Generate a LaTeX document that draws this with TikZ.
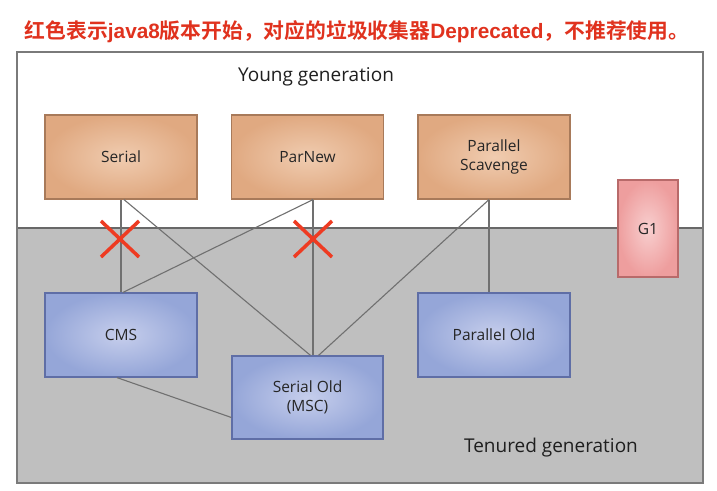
\documentclass[tikz,border=0pt]{standalone}
\usepackage{fontspec}
\setmainfont{Open Sans}
\newfontfamily\cjk{Noto Sans CJK SC}[BoldFont={Noto Sans CJK SC Bold}]
\newfontfamily\arialb{Liberation Sans}
\definecolor{titlered}{HTML}{E0321E}
\definecolor{frameg}{HTML}{7A7A7A}
\definecolor{tenured}{HTML}{BFBFBF}
\definecolor{linkg}{HTML}{707070}
\definecolor{orangeout}{HTML}{E0A981}
\definecolor{orangein}{HTML}{F0CCB0}
\definecolor{orangeedge}{HTML}{A87A5A}
\definecolor{blueout}{HTML}{95A6D8}
\definecolor{bluein}{HTML}{C6CEEC}
\definecolor{blueedge}{HTML}{5F6EA6}
\definecolor{pinkout}{HTML}{EE9E9E}
\definecolor{pinkin}{HTML}{F8CFCF}
\definecolor{pinkedge}{HTML}{B86A6A}
\definecolor{crossred}{HTML}{EE3B22}
\definecolor{txtg}{HTML}{262626}
\begin{document}
\begin{tikzpicture}[x=1pt,y=-1pt,
  gcbox/.style={rectangle, draw, line width=1.2pt, minimum width=152pt, minimum height=84pt,
    align=center, font=\fontsize{15.5}{19}\selectfont, text=txtg, inner sep=0pt},
  young/.style={gcbox, draw=orangeedge, inner color=orangein, outer color=orangeout},
  old/.style={gcbox, draw=blueedge, inner color=bluein, outer color=blueout},
  gone/.style={gcbox, draw=pinkedge, inner color=pinkin, outer color=pinkout, minimum width=60pt, minimum height=97pt},
  link/.style={draw=linkg, line width=1.1pt},
  crossline/.style={draw=crossred, line width=3.5pt},
  gen/.style={font=\fontsize{19}{22}\selectfont, text=black!88}]
\useasboundingbox (0,0) rectangle (717,490);
\fill[white] (0,0) rectangle (717,490);
% title
\node[text=titlered, font=\fontsize{20.8}{24}\selectfont\bfseries] (title) at (357,32)
  {{\cjk 红色表示}{\arialb java8}{\cjk 版本开始，对应的垃圾收集器}{\arialb Deprecated}{\cjk ，不推荐使用。}};
% regions
\fill[white] (17,52) rectangle (703,228);
\fill[tenured] (17,228) rectangle (703,483);
\draw[draw=frameg!85!black, line width=1.6pt] (17,228) -- (703,228);
\draw[draw=frameg, line width=1.5pt] (17,52) rectangle (703,483);
\node[gen] (younglbl) at (316,77) {Young generation};
\node[gen] (tenuredlbl) at (551,448) {Tenured generation};
% boxes
\node[young] (serial) at (121,157) {Serial};
\node[young] (parnew) at (307.5,157) {ParNew};
\node[young] (ps) at (494,157) {Parallel\\Scavenge};
\node[old] (cms) at (121,335) {CMS};
\node[old] (pold) at (494,335) {Parallel Old};
\node[old, minimum width=151pt, minimum height=83pt] (sold) at (307.5,397.5) {Serial Old\\(MSC)};
\node[gone] (g1) at (648,228.5) {G1};
% links
\draw[link] (serial.south) -- (cms.north);
\draw[link] ([xshift=3pt]serial.south) -- ([xshift=3pt]sold.north);
\draw[link] ([xshift=5.5pt]parnew.south) -- ([xshift=2pt]cms.north);
\draw[link] ([xshift=5.5pt]parnew.south) -- ([xshift=5.5pt]sold.north);
\draw[link] ([xshift=-5pt]ps.south) -- ([xshift=11pt]sold.north);
\draw[link] ([xshift=-5pt]ps.south) -- ([xshift=-5pt]pold.north);
\draw[link] ([xshift=-4pt]cms.south) -- ([yshift=-20pt]sold.west);
% red crosses
\coordinate (x1) at (120,239);
\coordinate (x2) at (313,239);
\foreach \c in {x1,x2}{
  \draw[crossline] ([xshift=-19pt,yshift=18pt]\c) -- ([xshift=19pt,yshift=-18pt]\c);
  \draw[crossline] ([xshift=-19pt,yshift=-18pt]\c) -- ([xshift=19pt,yshift=18pt]\c);
}
\end{tikzpicture}
\end{document}
